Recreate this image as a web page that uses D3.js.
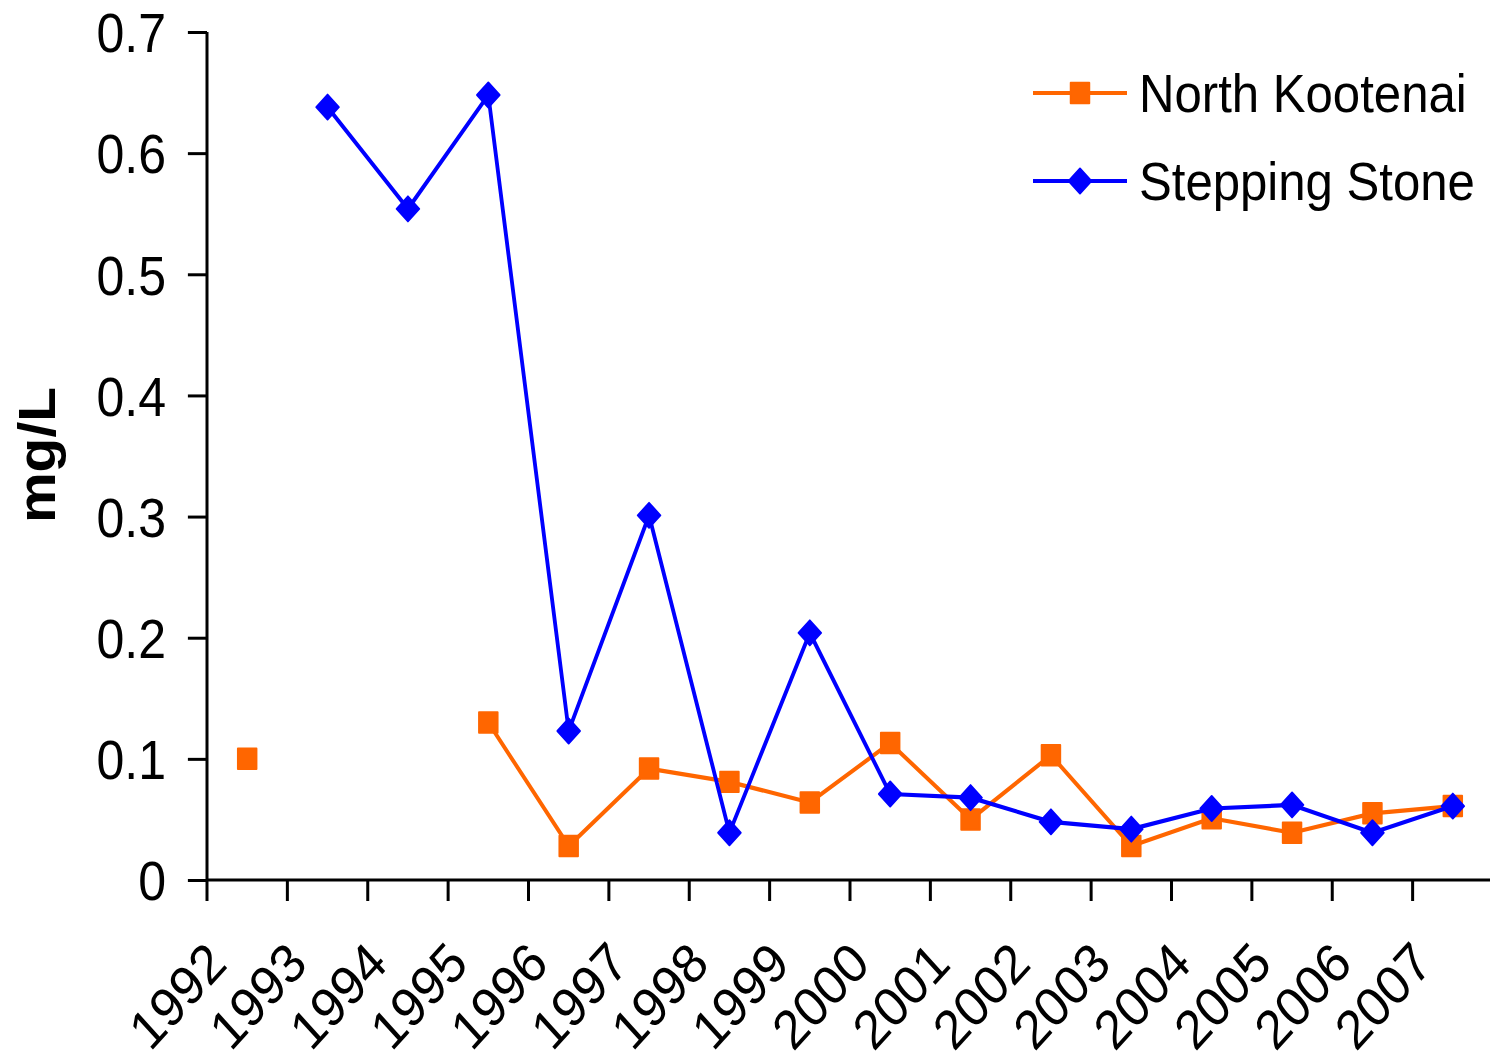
<!DOCTYPE html>
<html>
<head>
<meta charset="utf-8">
<script src="https://cdn.jsdelivr.net/npm/d3@7"></script>
<style>
  html, body { margin: 0; padding: 0; background: #fff; }
  svg { display: block; font-family: "Liberation Sans", Arial, sans-serif; }
</style>
</head>
<body>
<svg id="chart" width="1490" height="1060"></svg>
<script>
// Yearly concentrations (mg/L); null = no sample that year
const years = ["1992","1993","1994","1995","1996","1997","1998","1999",
               "2000","2001","2002","2003","2004","2005","2006","2007"];
const northKootenai = [0.100, null, null, 0.130, 0.028, 0.092, 0.081, 0.064,
                       0.113, 0.050, 0.103, 0.028, 0.051, 0.039, 0.055, 0.061];
const steppingStone = [null, 0.638, 0.554, 0.648, 0.123, 0.301, 0.039, 0.204,
                       0.071, 0.068, 0.048, 0.042, 0.059, 0.062, 0.039, 0.061];
const yTicks = [0, 0.1, 0.2, 0.3, 0.4, 0.5, 0.6, 0.7];
const seriesNames = ["North Kootenai", "Stepping Stone"];

// The whole drawing is laid out on a slightly wider canvas and squeezed
// horizontally, giving the condensed look of the lettering and markers.
const SX = 0.91;
const svg = d3.select("#chart");
const root = svg.append("g").attr("transform", `scale(${SX},1)`);

const plotLeft = 207 / SX, plotRight = 1493 / SX, plotTop = 32, plotBottom = 880;

const x = d3.scaleBand().domain(years).range([plotLeft, plotRight]);
const y = d3.scaleLinear().domain([0, 0.7]).range([plotBottom, plotTop]);
const cx = d => x(d) + x.bandwidth() / 2;

// Y axis
const yAxis = root.append("g")
  .attr("transform", `translate(${plotLeft},0)`)
  .call(d3.axisLeft(y).tickValues(yTicks).tickSize(21).tickPadding(24)
        .tickFormat(d => d === 0 ? "0" : d3.format(".1f")(d)));
yAxis.select(".domain").attr("d", `M0,${plotTop}V${plotBottom}`)
  .attr("stroke", "#000").attr("stroke-width", 3.3);
yAxis.selectAll(".tick line").attr("stroke", "#000").attr("stroke-width", 3);
yAxis.selectAll(".tick text")
  .attr("font-size", 55).attr("fill", "#000")
  .attr("font-family", "'Liberation Sans', Arial, sans-serif")
  .attr("dy", "0.36em").attr("x", -45);

// X axis: ticks on category boundaries
const xAxisG = root.append("g").attr("transform", `translate(0,${plotBottom})`);
xAxisG.append("line").attr("x1", plotLeft).attr("x2", plotRight).attr("y1", 0).attr("y2", 0)
  .attr("stroke", "#000").attr("stroke-width", 3);
xAxisG.selectAll("line.tick").data(years).join("line")
  .attr("class", "tick")
  .attr("x1", d => x(d)).attr("x2", d => x(d))
  .attr("y1", 0).attr("y2", 21)
  .attr("stroke", "#000").attr("stroke-width", 3.3);
xAxisG.selectAll("text").data(years).join("text")
  .attr("transform", d => `translate(${cx(d) - 20},86) rotate(-45)`)
  .attr("text-anchor", "end")
  .attr("font-size", 55)
  .attr("fill", "#000")
  .text(d => d);

// Y axis title
root.append("text")
  .attr("transform", `translate(${55 / SX},455) rotate(-90)`)
  .attr("text-anchor", "middle")
  .attr("font-size", 57)
  .attr("font-weight", "bold")
  .attr("fill", "#000")
  .text("mg/L");

const colors = ["#FF6600", "#0000FF"];
const allSeries = [northKootenai, steppingStone];

const line = d3.line()
  .defined(d => d.v !== null)
  .x(d => cx(d.year))
  .y(d => y(d.v));

const square = d3.symbol().type(d3.symbolSquare).size(420);
const diamond = d3.symbol().type(d3.symbolSquare).size(310);

allSeries.forEach((vals, i) => {
  const pts = years.map((yr, j) => ({ year: yr, v: vals[j] }));
  root.append("path")
    .datum(pts)
    .attr("d", line)
    .attr("fill", "none")
    .attr("stroke", colors[i])
    .attr("stroke-width", 4.2)
    .attr("stroke-linejoin", "round");
  root.append("g").selectAll("path")
    .data(pts.filter(p => p.v !== null))
    .join("path")
    .attr("d", i === 0 ? square : diamond)
    .attr("transform", p => `translate(${cx(p.year)},${y(p.v)})` + (i === 1 ? " rotate(45)" : ""))
    .attr("fill", colors[i])
    .attr("stroke", colors[i])
    .attr("stroke-width", 2)
    .attr("stroke-linejoin", "round");
});

// Legend
const legend = root.append("g");
seriesNames.forEach((name, i) => {
  const ly = 93 + i * 88;
  legend.append("line")
    .attr("x1", 1033 / SX).attr("x2", 1127 / SX).attr("y1", ly).attr("y2", ly)
    .attr("stroke", colors[i]).attr("stroke-width", 4.2);
  legend.append("path")
    .attr("d", i === 0 ? square : diamond)
    .attr("transform", `translate(${1080 / SX},${ly})` + (i === 1 ? " rotate(45)" : ""))
    .attr("fill", colors[i]).attr("stroke", colors[i]).attr("stroke-width", 2)
    .attr("stroke-linejoin", "round");
  legend.append("text")
    .attr("x", 1139 / SX).attr("y", ly + 19)
    .attr("font-size", 54)
    .attr("fill", "#000")
    .text(name);
});
</script>
</body>
</html>
